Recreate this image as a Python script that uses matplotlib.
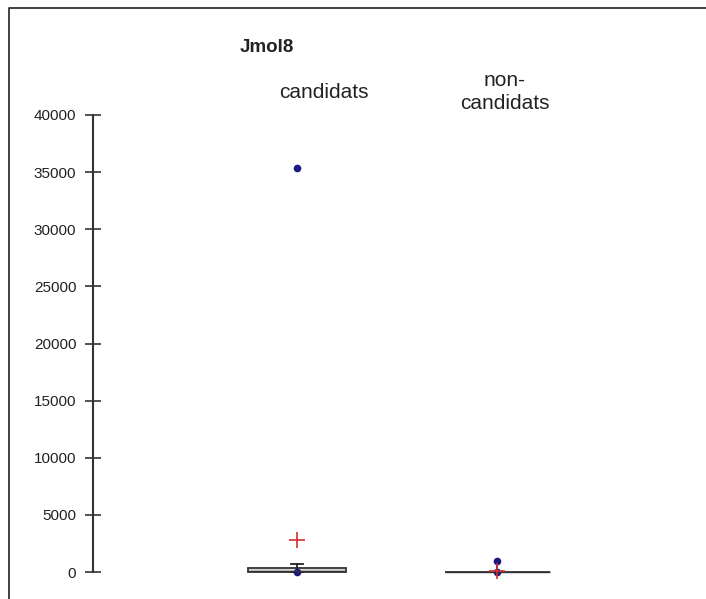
import matplotlib.pyplot as plt
from matplotlib.lines import Line2D

plt.rcParams['font.family'] = ['Liberation Sans', 'DejaVu Sans']

categories = ['candidats', 'non-\ncandidats']
q1 = [0, 0]
med = [120, 20]
q3 = [380, 40]
whislo = [0, 0]
whishi = [700, 950]
means = [2800, 60]
extremes = [[35400, 0], [950, 0]]
yticks = [0, 5000, 10000, 15000, 20000, 25000, 30000, 35000, 40000]

stats = []
for i, name in enumerate(categories):
    stats.append(dict(label=name, q1=q1[i], med=med[i], q3=q3[i],
                      whislo=whislo[i], whishi=whishi[i],
                      mean=means[i], fliers=extremes[i]))

fig = plt.figure(figsize=(7.06, 5.99), dpi=100)
ax = fig.add_axes([93 / 706, 1 - 572 / 599, (640 - 93) / 706, (572 - 115) / 599])

ax.bxp(stats, positions=[0, 1.0], widths=[0.49, 0.525], capwidths=[0.06, 0.0],
       showmeans=True, patch_artist=True,
       boxprops=dict(facecolor='#d9d9d9', edgecolor='#333333', linewidth=1.3),
       medianprops=dict(color='#333333', linewidth=1.0),
       whiskerprops=dict(color='#222222', linewidth=1.3),
       capprops=dict(color='#222222', linewidth=1.3),
       meanprops=dict(marker='+', markeredgecolor='#d03030', markersize=12,
                      markeredgewidth=1.2),
       flierprops=dict(marker='o', markerfacecolor='#1a1a80', markeredgecolor='#1a1a80',
                       markersize=4.5))
for art in ax.get_children():
    try:
        art.set_clip_on(False)
    except Exception:
        pass

ax.set_xlim(-1.02, 1.715)
ax.set_ylim(0, 40000)
ax.set_yticks(yticks)
ax.set_yticklabels([str(v) for v in yticks], fontsize=11, color='#222222')
ax.tick_params(axis='y', direction='inout', length=12, width=1.2, color='#333333', pad=6)
ax.set_xticks([])
for s in ['top', 'right', 'bottom']:
    ax.spines[s].set_visible(False)
ax.spines['left'].set_linewidth(1.5)
ax.spines['left'].set_color('#333333')

ax.text(0.135, 1.05, categories[0], transform=ax.get_xaxis_transform(),
        ha='center', va='center', fontsize=15, color='#222222')
ax.text(1.04, 1.05, categories[1], transform=ax.get_xaxis_transform(),
        ha='center', va='center', fontsize=15, color='#222222', linespacing=1.3)

fig.text(267 / 706, 1 - 47 / 599, 'Jmol8', ha='center', va='center',
         fontsize=13.5, fontweight='bold', color='#222222')

fig.add_artist(Line2D([9 / 706, 9 / 706, 1.0], [0, 1 - 8 / 599, 1 - 8 / 599],
                      transform=fig.transFigure, color='#333333', linewidth=1.3))

fig.savefig('out.png', dpi=100)
